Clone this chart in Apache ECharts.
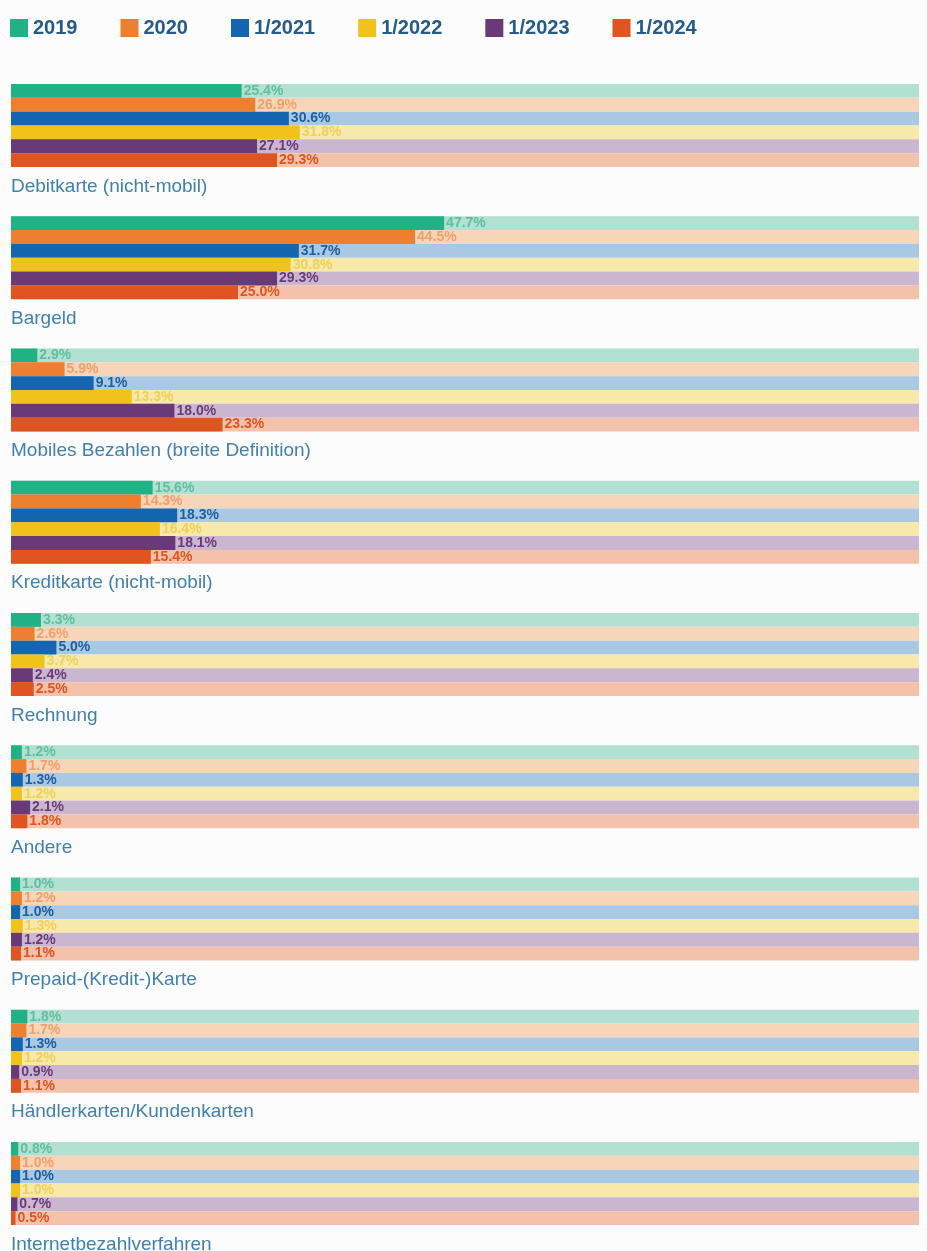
<!DOCTYPE html>
<html>
<head>
<meta charset="utf-8">
<script src="https://cdn.jsdelivr.net/npm/echarts@6/dist/echarts.min.js"></script>
<style>
  html, body { margin: 0; padding: 0; background: #fcfcfc; }
  #chart { width: 927px; height: 1251px; }
</style>
</head>
<body>
<div id="chart"></div>
<script>
// Jahre (Legende)
var years = ['2019', '2020', '1/2021', '1/2022', '1/2023', '1/2024'];
// Zahlungsarten
var categories = [
  'Debitkarte (nicht-mobil)',
  'Bargeld',
  'Mobiles Bezahlen (breite Definition)',
  'Kreditkarte (nicht-mobil)',
  'Rechnung',
  'Andere',
  'Prepaid-(Kredit-)Karte',
  'Händlerkarten/Kundenkarten',
  'Internetbezahlverfahren'
];
// Werte in %, je Jahr, in der Reihenfolge der Kategorien
var v2019 = [25.4, 47.7, 2.9, 15.6, 3.3, 1.2, 1.0, 1.8, 0.8];
var v2020 = [26.9, 44.5, 5.9, 14.3, 2.6, 1.7, 1.2, 1.7, 1.0];
var v2021 = [30.6, 31.7, 9.1, 18.3, 5.0, 1.3, 1.0, 1.3, 1.0];
var v2022 = [31.8, 30.8, 13.3, 16.4, 3.7, 1.2, 1.3, 1.2, 1.0];
var v2023 = [27.1, 29.3, 18.0, 18.1, 2.4, 2.1, 1.2, 0.9, 0.7];
var v2024 = [29.3, 25.0, 23.3, 15.4, 2.5, 1.8, 1.1, 1.1, 0.5];
var values = [v2019, v2020, v2021, v2022, v2023, v2024];

var colors = ['#20b286', '#ee7f2f', '#1566b0', '#f1c21c', '#6a3a78', '#e0541f'];
var trackColors = ['#b2e0d3', '#f6d5b9', '#a8c8e3', '#f6e9aa', '#cab7cf', '#f4c2aa'];
var labelColors = ['#5fbf9f', '#f0a06c', '#1d5f9e', '#f0cf5a', '#6a3a78', '#e0541f'];

var chart = echarts.init(document.getElementById('chart'));

var firstTop = 84;   // erste Gruppe
var groupStep = 132.25;
var groupHeight = 83;

var grids = [], xAxes = [], yAxes = [], titles = [], series = [];
categories.forEach(function (cat, g) {
  var top = firstTop + g * groupStep;
  grids.push({ left: 11, right: 8, top: top, height: groupHeight });
  xAxes.push({ gridIndex: g, type: 'value', min: 0, max: 100, show: false });
  yAxes.push({ gridIndex: g, type: 'category', data: [cat], inverse: true, show: false });
  titles.push({
    text: cat,
    left: 6,
    top: top + groupHeight + 5,
    textStyle: { color: '#3f80ad', fontSize: 19, fontWeight: 'normal', fontFamily: 'Liberation Sans, Arial, sans-serif' }
  });
  years.forEach(function (y, s) {
    series.push({
      type: 'bar',
      name: y,
      xAxisIndex: g,
      yAxisIndex: g,
      barGap: 0,
      barCategoryGap: 0,
      data: [values[s][g]],
      itemStyle: { color: colors[s] },
      showBackground: true,
      backgroundStyle: { color: trackColors[s] },
      label: {
        show: true,
        position: 'right',
        distance: 2,
        color: labelColors[s],
        fontSize: 14,
        fontWeight: 'bold',
        fontFamily: 'Liberation Sans, Arial, sans-serif',
        formatter: function (p) { return p.value.toFixed(1) + '%'; }
      },
      animation: false
    });
  });
});

chart.setOption({
  backgroundColor: '#fcfcfc',
  color: colors,
  title: titles,
  legend: {
    data: years,
    icon: 'rect',
    left: 5,
    top: 13,
    itemWidth: 18,
    itemHeight: 18,
    itemGap: 43,
    itemStyle: { borderWidth: 0 },
    textStyle: { color: '#245b8b', fontSize: 20, fontWeight: 'bold', fontFamily: 'Liberation Sans, Arial, sans-serif' }
  },
  grid: grids,
  xAxis: xAxes,
  yAxis: yAxes,
  series: series
});
</script>
</body>
</html>
